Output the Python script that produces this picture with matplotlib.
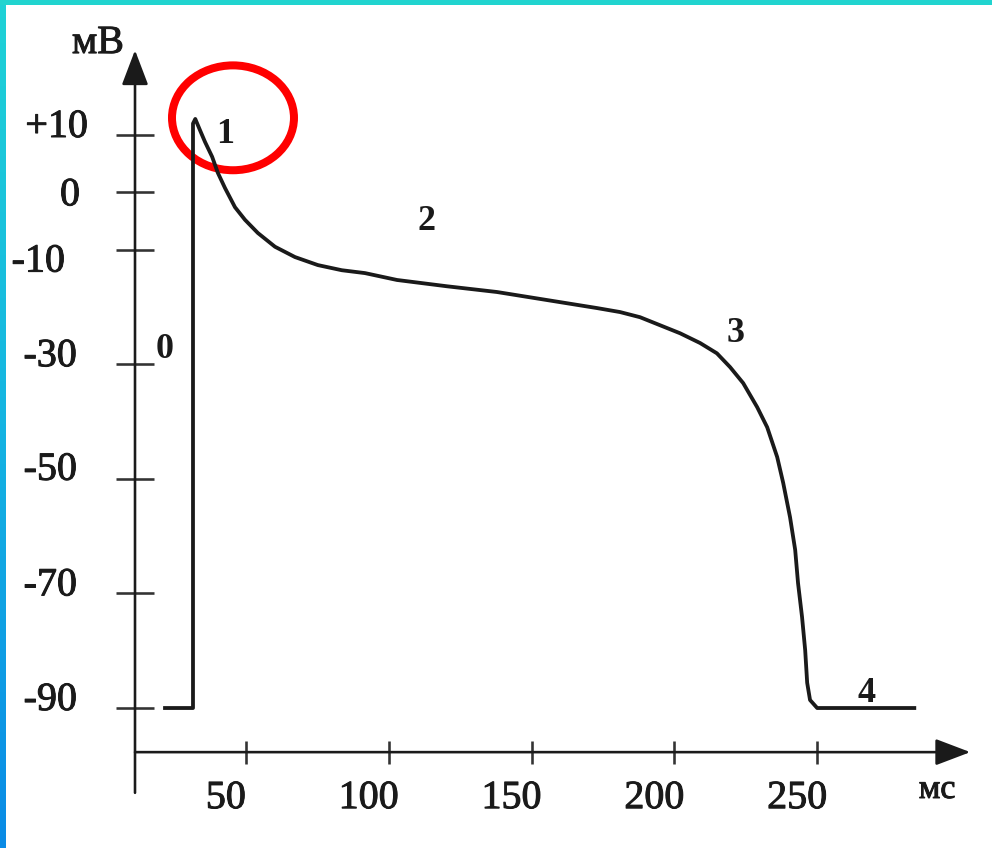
import matplotlib
matplotlib.use("Agg")
import matplotlib.pyplot as plt
import matplotlib.patheffects as pe
import numpy as np
from matplotlib.patches import Ellipse, Rectangle
from matplotlib.colors import LinearSegmentedColormap

# action potential of a ventricular cell
t_ms = [21.7, 31.5, 31.5, 32.3, 33.9, 35.7, 38.2, 40.2, 42.7, 46.2, 49.7,
        54.2, 60.2, 67.2, 75.2, 83.6, 91.7, 102.9, 120.4, 137.9, 155.4,
        172.9, 181.0, 188.0, 195.0, 202.0, 209.0, 214.9, 219.5, 224.1, 229.0,
        232.5, 236.0, 238.1, 240.5, 242.3, 243.3, 244.7, 245.8, 246.5, 247.5,
        250.0, 284.0]
u_mv = [-90, -90, 12.0, 12.8, 10.9, 8.8, 6.2, 3.4, 0.75, -2.6, -4.8,
        -7.1, -9.5, -11.3, -12.7, -13.6, -14.1, -15.3, -16.4, -17.4, -18.8,
        -20.2, -20.9, -21.8, -23.2, -24.6, -26.3, -28.1, -30.5, -33.3, -37.5,
        -41.0, -46.2, -50.7, -56.7, -62.4, -68.2, -74.1, -79.9, -85.6, -88.6,
        -90, -90]

phases = ["0", "1", "2", "3", "4"]
phase_t = [21.7, 42.7, 113.4, 221.3, 267.2]
phase_u = [-28.9, 8.6, -6.6, -26.1, -89.0]

xticks = [50, 100, 150, 200, 250]
yticks = [10, 0, -10, -30, -50, -70, -90]
ylabels = ["+10", "0", "-10", "-30", "-50", "-70", "-90"]

# where the hand drawn axes cross, and how far they run
x0, y0 = 11.2, -97.7
x_end, y_bot, y_top = 303.6, -104.8, 24.8

plt.rcParams["font.family"] = ["Liberation Serif", "DejaVu Serif"]
ink = "#1a1a1a"
thick = [pe.withStroke(linewidth=1.0, foreground=ink)]

fig = plt.figure(figsize=(992 / 72, 848 / 72), dpi=72)
ax = fig.add_axes([0, 0, 1, 1])
ax.set_xlim(-36.06, 311.2)
ax.set_ylim(-114.43, 33.56)
for s in ["top", "right"]:
    ax.spines[s].set_visible(False)
ax.spines["left"].set_position(("data", x0))
ax.spines["bottom"].set_position(("data", y0))
ax.spines["left"].set_visible(False)
ax.spines["bottom"].set_visible(False)
ax.set_xticks(xticks)
ax.set_yticks(yticks)
ax.tick_params(axis="y", direction="inout", length=38, width=2.6, color="#333333",
               labelleft=False)
ax.tick_params(axis="x", direction="inout", length=23, width=2.6, color="#333333",
               labelbottom=False)

# axes with arrow heads
arr = dict(arrowstyle="-|>,head_length=1.0,head_width=0.38", lw=2.6, color=ink,
           mutation_scale=30, shrinkA=0, shrinkB=0)
ax.annotate("", xy=(x0, y_top), xytext=(x0, y_bot), arrowprops=arr)
ax.annotate("", xy=(x_end, y0), xytext=(x0, y0), arrowprops=arr)

ax.plot(t_ms, u_mv, color=ink, lw=3.8, solid_joinstyle="round")

# tick labels
ylab_dx = [-47, -55, -70, -58, -58, -58, -58]
ylab_dy = [-2, -13, -22, -2, -1, -2, -2]
for v, lab, dx, dy in zip(yticks, ylabels, ylab_dx, ylab_dy):
    ax.annotate(lab, xy=(x0, v), xytext=(dx, dy), textcoords="offset points",
                ha="right", va="baseline", fontsize=40, color=ink, path_effects=thick)
for v in xticks:
    ax.annotate(str(v), xy=(v, y0), xytext=(-20, -56), textcoords="offset points",
                ha="center", va="baseline", fontsize=40, color=ink, path_effects=thick)

ax.text(-1.75, 24.3, "мВ", ha="center", va="baseline", fontsize=40, color=ink,
        path_effects=thick)
ax.text(292.0, -105.7, "мс", ha="center", va="baseline", fontsize=34, color=ink,
        path_effects=thick)

for p, t, u in zip(phases, phase_t, phase_u):
    ax.text(t, u, p, ha="center", va="baseline", fontsize=36, fontweight="bold",
            color=ink)

ax.add_patch(Ellipse((45.5, 13.0), 42.7, 18.3, fill=False, edgecolor="#ff0000",
                     lw=8))

# frame of the slide: cyan top strip, cyan-to-blue left strip
fig.patches.append(Rectangle((0, 1 - 5 / 848), 1, 5 / 848, transform=fig.transFigure,
                             facecolor="#21d4cf", edgecolor="none"))
side = fig.add_axes([0, 0, 6 / 992, 1])
cmap = LinearSegmentedColormap.from_list("edge", ["#1fd2d6", "#15b4e2", "#0a8be6"])
side.imshow(np.linspace(0, 1, 256).reshape(-1, 1), aspect="auto", cmap=cmap)
side.axis("off")

fig.savefig("out.png", dpi=72)
